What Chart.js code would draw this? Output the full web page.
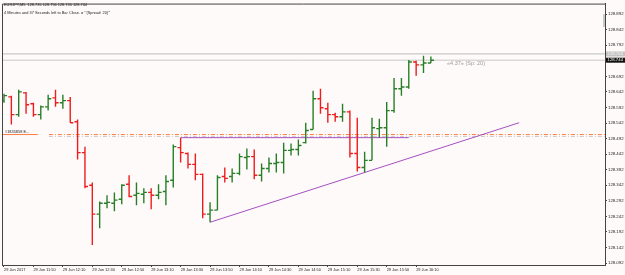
<!DOCTYPE html>
<html>
<head>
<meta charset="utf-8">
<script src="https://cdn.jsdelivr.net/npm/chart.js@4.4.0/dist/chart.umd.min.js"></script>
<style>
  html, body { margin: 0; padding: 0; background: #fffafa; }
  #wrap { width: 625px; height: 275px; }
</style>
</head>
<body>
<div id="wrap"><canvas id="priceChart" width="625" height="275"></canvas></div>
<script>
// EURJPY M5 bars, 29 Jun 2017 11:30 .. 16:20
const symbolTitle = 'EURJPY,M5  128.735 128.756 128.735 128.744';
const timerTitle = '4 Minutes and 37 Seconds left to Bar Close. = "\'(Spread: 20)\'"';
const timerNote = '\u00ab4.37\u00bb (Sp: 20)';
const levelNote = '#1835858 E...';

const opens = [128.614, 128.626, 128.569, 128.639, 128.604, 128.569, 128.594, 128.623, 128.607, 128.614,
  128.546, 128.447, 128.342, 128.249, 128.284, 128.284, 128.297, 128.345, 128.310, 128.313,
  128.319, 128.310, 128.322, 128.358, 128.463, 128.444, 128.409, 128.377, 128.249, 128.262,
  128.370, 128.370, 128.380, 128.431, 128.434, 128.374, 128.396, 128.412, 128.415, 128.454,
  128.457, 128.479, 128.521, 128.620, 128.588, 128.569, 128.562, 128.578, 128.444, 128.399,
  128.422, 128.524, 128.527, 128.582, 128.652, 128.658, 128.738, 128.729, 128.735];
const highs = [128.636, 128.630, 128.649, 128.642, 128.607, 128.598, 128.633, 128.649, 128.633, 128.626,
  128.553, 128.466, 128.351, 128.290, 128.310, 128.319, 128.345, 128.374, 128.351, 128.332,
  128.332, 128.345, 128.374, 128.473, 128.495, 128.447, 128.444, 128.380, 128.287, 128.374,
  128.399, 128.396, 128.444, 128.460, 128.457, 128.412, 128.431, 128.444, 128.479, 128.476,
  128.489, 128.543, 128.646, 128.652, 128.607, 128.575, 128.604, 128.582, 128.559, 128.450,
  128.559, 128.556, 128.610, 128.687, 128.687, 128.745, 128.742, 128.758, 128.756];
const lows = [128.607, 128.537, 128.562, 128.572, 128.562, 128.553, 128.582, 128.594, 128.588, 128.543,
  128.425, 128.332, 128.150, 128.204, 128.268, 128.258, 128.281, 128.303, 128.278, 128.284,
  128.265, 128.297, 128.278, 128.335, 128.415, 128.396, 128.358, 128.236, 128.223, 128.262,
  128.351, 128.351, 128.374, 128.393, 128.361, 128.354, 128.383, 128.383, 128.380, 128.438,
  128.438, 128.476, 128.521, 128.572, 128.543, 128.546, 128.546, 128.431, 128.386, 128.383,
  128.422, 128.495, 128.466, 128.575, 128.630, 128.652, 128.694, 128.703, 128.735];
const closes = [128.630, 128.569, 128.642, 128.601, 128.569, 128.594, 128.620, 128.607, 128.614, 128.543,
  128.447, 128.338, 128.249, 128.284, 128.287, 128.294, 128.342, 128.306, 128.316, 128.319,
  128.310, 128.319, 128.354, 128.466, 128.447, 128.409, 128.377, 128.249, 128.262, 128.367,
  128.364, 128.380, 128.434, 128.434, 128.374, 128.396, 128.412, 128.415, 128.454, 128.457,
  128.470, 128.518, 128.620, 128.591, 128.569, 128.562, 128.578, 128.444, 128.399, 128.422,
  128.527, 128.527, 128.582, 128.652, 128.658, 128.738, 128.729, 128.735, 128.744];

const timeLabels = ['29 Jun 2017', '29 Jun 11:50', '29 Jun 12:10', '29 Jun 12:30', '29 Jun 12:50',
  '29 Jun 13:10', '29 Jun 13:30', '29 Jun 13:50', '29 Jun 14:10', '29 Jun 14:30', '29 Jun 14:50',
  '29 Jun 15:10', '29 Jun 15:30', '29 Jun 15:50', '29 Jun 16:10'];
const labelBars = [0, 4, 8, 12, 16, 20, 24, 28, 32, 36, 40, 44, 48, 52, 56];
const priceTicks = [128.092, 128.142, 128.192, 128.242, 128.292, 128.342, 128.392, 128.442, 128.492,
  128.542, 128.592, 128.642, 128.692, 128.742, 128.792, 128.842, 128.892];

const bidPrice = 128.744;
const askPrice = 128.764;
const orderLevel = 128.505;
const orderShadow = 128.499;
const flatLineBars = [24, 55];
const flatLinePrices = [128.495, 128.495];
const trendBars = [28, 70];
const trendPrices = [128.223, 128.543];

const X_MIN = -0.27, X_MAX = 81.66;

// high-low sticks + open/close ticks, one line dataset per colour
function ohlcPoints(up) {
    const pts = [];
    opens.forEach((o, i) => {
        if ((closes[i] >= o) !== up) return;
        pts.push({x: i, y: lows[i]}, {x: i, y: highs[i]}, {x: i, y: null});
        pts.push({x: i - 0.42, y: o}, {x: i, y: o}, {x: i, y: null});
        pts.push({x: i, y: closes[i]}, {x: i + 0.42, y: closes[i]}, {x: i, y: null});
    });
    return pts;
}

function hLine(price, from, to) {
    return [{x: from, y: price}, {x: to, y: price}];
}

const base = {pointRadius: 0, borderWidth: 1, fill: false, spanGaps: false, tension: 0};

const frameAndText = {
    id: 'frameAndText',
    beforeDraw(chart) {
        const ctx = chart.ctx;
        ctx.save();
        ctx.fillStyle = '#fffafa';
        ctx.fillRect(0, 0, chart.width, chart.height);
        ctx.restore();
    },
    afterDraw(chart) {
        const ctx = chart.ctx;
        const a = chart.chartArea;
        const x = chart.scales.x, y = chart.scales.y;
        ctx.save();
        ctx.strokeStyle = '#444';
        ctx.lineWidth = 1;
        ctx.beginPath();
        ctx.moveTo(a.left + 0.5, a.bottom);
        ctx.lineTo(a.left + 0.5, a.top + 0.5);
        ctx.lineTo(a.right, a.top + 0.5);
        ctx.stroke();

        ctx.fillStyle = '#222';
        ctx.textBaseline = 'top';
        ctx.textAlign = 'left';
        ctx.font = '3.9px "Liberation Sans", Arial, sans-serif';
        ctx.fillText(symbolTitle, 4, 3);
        ctx.fillText(timerTitle, 4, 11);
        ctx.fillText(levelNote, 5, y.getPixelForValue(orderLevel) - 5);

        ctx.fillStyle = '#999';
        ctx.textBaseline = 'middle';
        ctx.font = '5.5px "Liberation Sans", Arial, sans-serif';
        ctx.fillText(timerNote, x.getPixelForValue(60.2), y.getPixelForValue(128.732));

        // price boxes on the scale
        ctx.font = '4.3px "Liberation Sans", Arial, sans-serif';
        [[askPrice, '#c4c4c4', '#f4f4f4'], [bidPrice, '#111', '#fff']].forEach(([p, bg, fg]) => {
            const py = y.getPixelForValue(p);
            ctx.fillStyle = bg;
            ctx.fillRect(a.right + 1, py - 2.5, 19, 5);
            ctx.fillStyle = fg;
            ctx.fillText(p.toFixed(3), a.right + 2.5, py);
        });
        ctx.fillStyle = '#c8c8c8';
        const t1 = y.getPixelForValue(128.892), t2 = y.getPixelForValue(128.851);
        ctx.fillRect(a.right - 2, t1, 2, t2 - t1);
        ctx.restore();
    }
};

new Chart(document.getElementById('priceChart').getContext('2d'), {
    type: 'line',
    data: {
        datasets: [
            {...base, data: ohlcPoints(true), borderColor: '#267f26', borderWidth: 1.4},
            {...base, data: ohlcPoints(false), borderColor: '#ee1c1c', borderWidth: 1.4},
            {...base, data: trendBars.map((b, i) => ({x: b, y: trendPrices[i]})), borderColor: '#a650c2'},
            {...base, data: flatLineBars.map((b, i) => ({x: b, y: flatLinePrices[i]})), borderColor: '#a650c2'},
            {...base, data: hLine(orderLevel, 6.1, X_MAX), borderColor: '#ff7f40', borderDash: [4, 2, 1, 2]},
            {...base, data: hLine(orderLevel, X_MIN, 4.6), borderColor: '#ff7f40'},
            {...base, data: hLine(orderShadow, 6.1, X_MAX), borderColor: '#c8c8c8', borderDash: [4, 2, 1, 2]},
            {...base, data: hLine(bidPrice, X_MIN, X_MAX), borderColor: '#c8c8c8'},
            {...base, data: hLine(askPrice, X_MIN, X_MAX), borderColor: '#c8c8c8', borderWidth: 1.3}
        ]
    },
    options: {
        responsive: false,
        animation: false,
        devicePixelRatio: 1,
        layout: {padding: {left: 2, top: 2, right: 0, bottom: 0}},
        plugins: {legend: {display: false}, tooltip: {enabled: false}, title: {display: false}},
        scales: {
            x: {
                type: 'linear',
                min: X_MIN,
                max: X_MAX,
                afterBuildTicks: scale => { scale.ticks = labelBars.map(v => ({value: v})); },
                afterFit: scale => { scale.height = 10; },
                ticks: {
                    autoSkip: false, maxRotation: 0, minRotation: 0, align: 'start', padding: 1,
                    color: '#222', font: {size: 3.9, family: '"Liberation Sans", Arial, sans-serif'},
                    callback: (v, i) => timeLabels[i]
                },
                grid: {display: true, drawOnChartArea: false, drawTicks: true, tickLength: 2, color: '#444'},
                border: {display: true, color: '#444', width: 1}
            },
            y: {
                position: 'right',
                min: 128.0856,
                max: 128.926,
                afterBuildTicks: scale => { scale.ticks = priceTicks.map(v => ({value: v})); },
                afterFit: scale => { scale.width = 20; },
                ticks: {
                    autoSkip: false, padding: 1, color: '#222',
                    font: {size: 4.3, family: '"Liberation Sans", Arial, sans-serif'},
                    callback: v => v.toFixed(3)
                },
                grid: {display: true, drawOnChartArea: false, drawTicks: true, tickLength: 2, color: '#444'},
                border: {display: true, color: '#444', width: 1}
            }
        }
    },
    plugins: [frameAndText]
});
</script>
</body>
</html>
